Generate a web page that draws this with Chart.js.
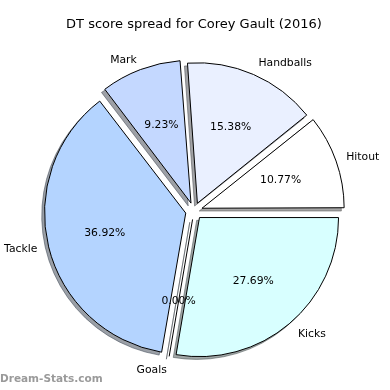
<!DOCTYPE html>
<html>
<head>
<meta charset="utf-8">
<script src="https://cdn.jsdelivr.net/npm/chart.js@4.4.1/dist/chart.umd.min.js"></script>
<style>
  html, body { margin: 0; padding: 0; background: #fff; }
</style>
</head>
<body>
<canvas id="chart" width="390" height="390"></canvas>
<script>
// Slices listed clockwise from 3 o'clock (the original was drawn counter-clockwise)
const labels = ['Kicks', 'Goals', 'Tackle', 'Mark', 'Handballs', 'Hitout'];
const percents = [27.69, 0.00, 36.92, 9.23, 15.38, 10.77];
const colors = ['#d8ffff', '#ddeeff', '#b4d4ff', '#c4d8ff', '#eaf0ff', '#ffffff'];

const OFFSET = 34; // chart.js shifts an arc by offset / 4
const FONT = "'DejaVu Sans', sans-serif";

// darker, half transparent copy of a slice colour, like the matplotlib shadow
function shade(hex) {
  const n = parseInt(hex.slice(1), 16);
  const r = Math.round(((n >> 16) & 255) * 0.3);
  const g = Math.round(((n >> 8) & 255) * 0.3);
  const b = Math.round((n & 255) * 0.3);
  return `rgba(${r},${g},${b},0.5)`;
}

// centre of an exploded arc
function arcCentre(arc) {
  const mid = (arc.startAngle + arc.endAngle) / 2;
  return {
    mid,
    x: arc.x + Math.cos(mid) * OFFSET / 4,
    y: arc.y + Math.sin(mid) * OFFSET / 4,
  };
}

const pieExtras = {
  id: 'pieExtras',
  beforeDatasetsDraw(chart) {
    const { ctx } = chart;
    const arcs = chart.getDatasetMeta(0).data;
    ctx.save();
    arcs.forEach((arc, i) => {
      const c = arcCentre(arc);
      const sx = c.x - 2.8;
      const sy = c.y + 2.8;
      const fix = arc.circumference > 0 ? 1 - Math.sin(Math.min(Math.PI, arc.circumference)) : 0;
      const r = arc.outerRadius + (OFFSET / 4) * fix;
      ctx.fillStyle = shade(colors[i]);
      ctx.strokeStyle = shade(colors[i]);
      ctx.lineWidth = 1;
      ctx.beginPath();
      ctx.moveTo(sx, sy);
      ctx.arc(sx, sy, r, arc.startAngle, arc.endAngle);
      ctx.closePath();
      ctx.fill();
      ctx.stroke();
    });
    ctx.restore();
  },
  afterDatasetsDraw(chart) {
    const { ctx } = chart;
    const arcs = chart.getDatasetMeta(0).data;
    ctx.save();
    arcs.forEach((arc, i) => {
      const c = arcCentre(arc);
      const r = arc.outerRadius;
      // zero slices are not drawn by chart.js, show them as a single edge
      if (arc.circumference === 0) {
        ctx.strokeStyle = '#000';
        ctx.lineWidth = 1;
        ctx.beginPath();
        ctx.moveTo(c.x, c.y);
        ctx.lineTo(c.x + Math.cos(c.mid) * r, c.y + Math.sin(c.mid) * r);
        ctx.stroke();
      }
      ctx.fillStyle = '#000';
      ctx.font = `10.8px ${FONT}`;
      ctx.textBaseline = 'middle';
      // category label outside the slice
      ctx.textAlign = Math.cos(c.mid) >= 0 ? 'left' : 'right';
      ctx.fillText(labels[i], c.x + Math.cos(c.mid) * r * 1.1, c.y + Math.sin(c.mid) * r * 1.1);
      // percentage inside
      ctx.textAlign = 'center';
      ctx.fillText(percents[i].toFixed(2) + '%', c.x + Math.cos(c.mid) * r * 0.6, c.y + Math.sin(c.mid) * r * 0.6);
    });
    ctx.restore();
  },
  afterDraw(chart) {
    const { ctx } = chart;
    ctx.save();
    ctx.fillStyle = '#9a9a9a';
    ctx.font = `bold 10.5px ${FONT}`;
    ctx.textAlign = 'left';
    ctx.textBaseline = 'middle';
    ctx.fillText('Dream-Stats.com', 0, 379);
    ctx.restore();
  },
};

new Chart(document.getElementById('chart').getContext('2d'), {
  type: 'pie',
  data: {
    labels,
    datasets: [{
      data: percents,
      backgroundColor: colors,
      borderColor: '#000',
      borderWidth: 1,
      offset: OFFSET,
    }],
  },
  options: {
    responsive: false,
    animation: false,
    events: [],
    rotation: 90,
    layout: {
      padding: { left: 37, right: 39, top: 0, bottom: 22.5 },
    },
    plugins: {
      legend: { display: false },
      tooltip: { enabled: false },
      title: {
        display: true,
        text: 'DT score spread for Corey Gault (2016)',
        color: '#000',
        font: { family: FONT, size: 13, weight: 'normal' },
        padding: { top: 17, bottom: 22 },
      },
    },
  },
  plugins: [pieExtras],
});
</script>
</body>
</html>
